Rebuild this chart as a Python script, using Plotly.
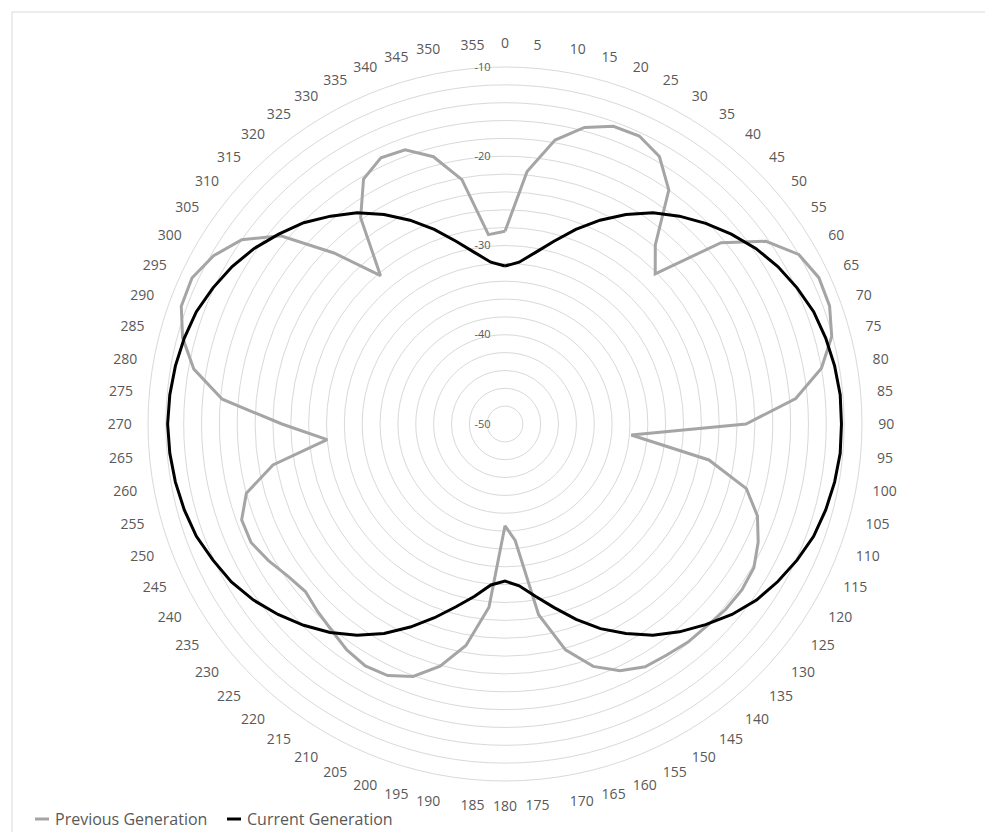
import plotly.graph_objects as go

# The page body has an 8px margin; lay out in page pixels and shift.
OFF = 8
W, H = 993 - OFF, 832 - OFF

angles = [str(a) for a in range(0, 360, 5)]

previous_gen = [
    -28.4, -21.6, -17.7, -15.6, -14.5, -14.4, -15.4, -18.0, -23.8, -26.2,
    -18.4, -14.3, -12.0, -11.2, -11.3, -12.1, -14.0, -17.3, -23.0, -35.8,
    -26.8, -22.0, -19.9, -18.7, -17.8, -17.6, -17.7, -18.0, -18.1, -18.4,
    -18.6, -19.5, -21.1, -23.8, -28.3, -36.9, -38.6, -29.4, -24.8, -21.9,
    -19.9, -18.9, -18.7, -19.1, -19.8, -20.3, -20.8, -20.3, -19.4, -18.6,
    -18.6, -20.0, -23.6, -30.0, -25.0, -18.2, -14.6, -12.6, -11.4, -11.3,
    -12.3, -14.0, -17.2, -22.9, -28.3, -21.8, -18.3, -17.1, -17.3, -19.0,
    -22.2, -28.7,
]

current_gen = [
    -32.3, -31.8, -30.5, -28.8, -26.8, -24.8, -22.9, -21.1, -19.6, -18.2,
    -16.9, -15.7, -14.7, -13.9, -13.2, -12.8, -12.5, -12.3, -12.3, -12.3,
    -12.5, -12.8, -13.2, -13.9, -14.7, -15.6, -16.8, -18.2, -19.6, -21.1,
    -22.9, -24.7, -26.7, -28.7, -30.4, -31.8, -32.4, -31.9, -30.4, -28.8,
    -26.9, -24.9, -22.9, -21.1, -19.5, -18.1, -16.8, -15.6, -14.6, -13.9,
    -13.2, -12.8, -12.5, -12.3, -12.2, -12.3, -12.5, -12.8, -13.2, -13.9,
    -14.7, -15.7, -16.9, -18.1, -19.6, -21.1, -22.9, -24.8, -26.8, -28.8,
    -30.5, -31.8,
]

radial_ticks = list(range(-50, -9, 2))
radial_labels = [str(v) if v % 10 == 0 else "" for v in radial_ticks]

series_names = ["Previous Generation", "Current Generation"]
series_colors = ["#A5A5A5", "#000000"]
TEXT = "#595959"
GRID = "#D9D9D9"
FONT = "Open Sans"


def px(x):
    return (x - OFF) / W


def py(y):
    return 1 - (y - OFF) / H


fig = go.Figure()
for name, vals, col in zip(series_names, [previous_gen, current_gen], series_colors):
    fig.add_trace(go.Scatterpolar(
        r=vals + vals[:1],
        theta=angles + angles[:1],
        mode="lines",
        name=name,
        line=dict(color=col, width=3),
        showlegend=False,
    ))

cx, cy, rad = 505, 424, 357
dom_x = [px(cx - rad), px(cx + rad)]
dom_y = [py(cy + rad), py(cy - rad)]

fig.update_layout(
    width=W, height=H,
    margin=dict(l=0, r=0, t=0, b=0),
    paper_bgcolor="white",
    plot_bgcolor="white",
    font=dict(family=FONT, color=TEXT, size=14),
    polar=dict(
        domain=dict(x=dom_x, y=dom_y),
        bgcolor="white",
        angularaxis=dict(
            type="category",
            categoryarray=angles,
            direction="clockwise",
            rotation=90,
            showgrid=False,
            showline=True,
            linecolor=GRID,
            linewidth=1,
            ticks="outside",
            ticklen=13,
            tickcolor="rgba(0,0,0,0)",
            tickfont=dict(size=14, color=TEXT, family=FONT),
        ),
        radialaxis=dict(
            range=[-50, -10],
            angle=90,
            tickangle=90,
            side="counterclockwise",
            tickvals=radial_ticks,
            ticktext=radial_labels,
            showline=False,
            ticks="outside",
            ticklen=10,
            tickcolor="rgba(0,0,0,0)",
            gridcolor=GRID,
            gridwidth=1,
            tickfont=dict(size=11, color=TEXT, family=FONT),
        ),
    ),
    showlegend=False,
)

# chart-area border
fig.add_shape(type="rect", xref="paper", yref="paper",
              x0=px(12), x1=1.02, y0=-0.02, y1=py(12),
              line=dict(color=GRID, width=1), fillcolor="rgba(0,0,0,0)", layer="below")

# legend
leg_y = 819
leg_items = [(35, 53), (227, 245)]
for (lx, tx), name, col in zip(leg_items, series_names, series_colors):
    fig.add_shape(type="line", xref="paper", yref="paper",
                  x0=px(lx), x1=px(lx + 14), y0=py(leg_y), y1=py(leg_y),
                  line=dict(color=col, width=3))
    fig.add_annotation(xref="paper", yref="paper", x=px(tx), y=py(leg_y),
                       text=name, showarrow=False, xanchor="left", yanchor="middle",
                       font=dict(size=16, color=TEXT, family=FONT))

fig.write_html("out.html")
